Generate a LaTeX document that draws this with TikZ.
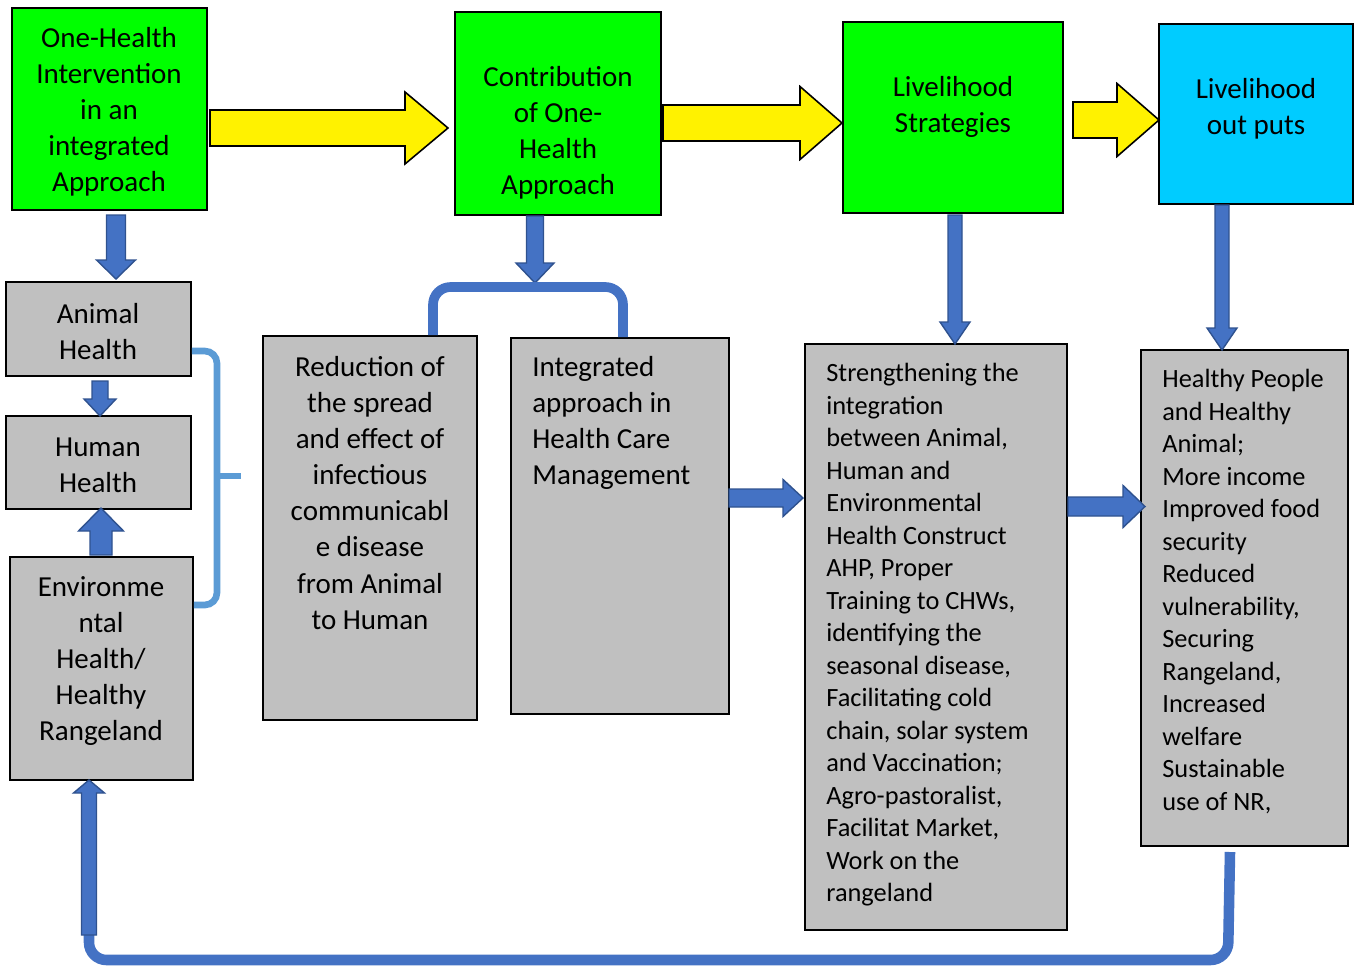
\documentclass[tikz,border=0pt]{standalone}
\usepackage{fontspec}
\setmainfont{Carlito}
\usetikzlibrary{fit,calc}
\definecolor{ygreen}{HTML}{00FF00}
\definecolor{ocyan}{HTML}{00CCFF}
\definecolor{boxgray}{HTML}{C0C0C0}
\definecolor{oblue}{HTML}{4472C4}
\definecolor{oblueline}{HTML}{2F528F}
\definecolor{lblue}{HTML}{5B9BD5}
\newcommand{\barrow}[7]{%
 \draw[#1] [shift={#2}, rotate=#3] (0,-#5) -- ({#4-#7},-#5) -- ({#4-#7},-#6) -- (#4,0) -- ({#4-#7},#6) -- ({#4-#7},#5) -- (0,#5) -- cycle;}
\newcommand{\bigtxt}{\fontsize{16.5}{20.5}\selectfont}
\newcommand{\smtxt}{\fontsize{15}{18.5}\selectfont}
\tikzset{
 box/.style={draw=black, line width=1.1pt, inner sep=0pt},
 gbox/.style={box, fill=ygreen},
 cbox/.style={box, fill=ocyan},
 graybox/.style={box, fill=boxgray},
 ctxt/.style={inner sep=0pt, align=center, font=\bigtxt},
 ltxt/.style={inner sep=0pt, align=left, anchor=west, font=\smtxt},
 yarrow/.style={fill=yellow, draw=black, line width=0.9pt, line join=miter},
 barr/.style={fill=oblue, draw=oblueline, line width=0.8pt, line join=miter},
 bracketline/.style={draw=oblue, line width=5.5pt, rounded corners=10},
 braceline/.style={draw=lblue, line width=3.8pt, rounded corners=7},
 loopline/.style={draw=oblue, line width=6pt, rounded corners=10}
}
\begin{document}
\begin{tikzpicture}[x=0.02cm, y=-0.02cm]
\useasboundingbox (0,0) rectangle (1359,967);
% boxes
\node[gbox, fit={(12,8) (207,210)}] (b1) {};
\node[gbox, fit={(455,12) (661,215)}] (b2) {};
\node[gbox, fit={(843,22) (1063,213)}] (b3) {};
\node[cbox, fit={(1159,24) (1353,204)}] (b4) {};
\node[graybox, fit={(6,282) (191,376)}] (b5) {};
\node[graybox, fit={(6,416) (191,509)}] (b6) {};
\node[graybox, fit={(10,557) (193,780)}] (b7) {};
\node[graybox, fit={(263,336) (477,720)}] (b8) {};
\node[graybox, fit={(511,338) (729,714)}] (b9) {};
\node[graybox, fit={(805,344) (1067,930)}] (b10) {};
\node[graybox, fit={(1141,350) (1348,846)}] (b11) {};
% texts
\node[ctxt] (t1) at (109,111.5) {One-Health\\Intervention\\in an\\integrated\\Approach};
\node[ctxt] (t2) at (558,133) {Contribution\\of One-\\Health\\Approach};
\node[ctxt] (t3) at (953,107) {Livelihood\\Strategies};
\node[ctxt] (t4) at (1256,109) {Livelihood\\out puts};
\node[ctxt] (t5) at (98,331.5) {Animal\\Health};
\node[ctxt] (t6) at (98,465.5) {Human\\Health};
\node[ctxt] (t7) at (101,661) {Environme\\ntal\\Health/\\Healthy\\Rangeland};
\node[ctxt] (t8) at (370,493) {Reduction of\\the spread\\and effect of\\infectious\\communicabl\\e disease\\from Animal\\to Human};
\node[ltxt, font=\bigtxt] (t9) at (532,423) {Integrated\\approach in\\Health Care\\Management};
\node[ltxt] (t10) at (826,635) {Strengthening the\\integration\\between Animal,\\Human and\\Environmental\\Health Construct\\AHP, Proper\\Training to CHWs,\\identifying the\\seasonal disease,\\Facilitating cold\\chain, solar system\\and Vaccination;\\Agro-pastoralist,\\Facilitat Market,\\Work on the\\rangeland};
\node[ltxt] (t11) at (1162,591.5) {Healthy People\\and Healthy\\Animal;\\More income\\Improved food\\security\\Reduced\\vulnerability,\\Securing\\Rangeland,\\Increased\\welfare\\Sustainable\\use of NR,};
% arrow start points
\coordinate (y1) at (210,128);
\coordinate (y2) at (663,123);
\coordinate (y3) at (1073,120);
\coordinate (d1) at (116,215);
\coordinate (d2) at (100,381);
\coordinate (u1) at (101,555);
\coordinate (d3) at (535,216);
\coordinate (d4) at (955,215);
\coordinate (d5) at (1222,205);
\coordinate (r1) at (729,498);
\coordinate (r2) at (1068,506.5);
% yellow arrows
\barrow{yarrow}{(y1)}{0}{238}{18}{36}{43}
\barrow{yarrow}{(y2)}{0}{179}{18}{36.5}{42}
\barrow{yarrow}{(y3)}{0}{86}{18}{36.5}{42}
% blue block arrows
\barrow{barr}{(d1)}{-90}{64}{9.5}{19.5}{19}
\barrow{barr}{(d2)}{-90}{35}{8}{16}{17}
\barrow{barr}{(u1)}{90}{47}{11}{22.5}{23}
\barrow{barr}{(d3)}{-90}{67}{8.5}{19}{20}
\barrow{barr}{(d4)}{-90}{129}{7}{15}{22}
\barrow{barr}{(d5)}{-90}{145}{7}{15}{22}
\barrow{barr}{(r1)}{0}{74}{9}{18.5}{20}
\barrow{barr}{(r2)}{0}{77}{9.5}{21}{22}
% bracket over boxes 8 and 9
\draw[bracketline] (b8.north -| 433,0) -- (433,287) -- (623,287) -- (b9.north -| 623,0);
% light blue brace
\coordinate (bt) at (241,476);
\draw[braceline] (b5.east |- 0,351) -- (217,351) -- (217,605) -- (b7.east |- 0,605);
\draw[braceline, rounded corners=0] (217,476) -- (bt);
% bottom loop
\coordinate (lp) at (1230,852);
\draw[loopline] (lp) -- (1228,960) -- (89,960) -- (89,860);
\barrow{barr}{(89,935)}{90}{155}{7.5}{15.5}{13}
\end{tikzpicture}
\end{document}
